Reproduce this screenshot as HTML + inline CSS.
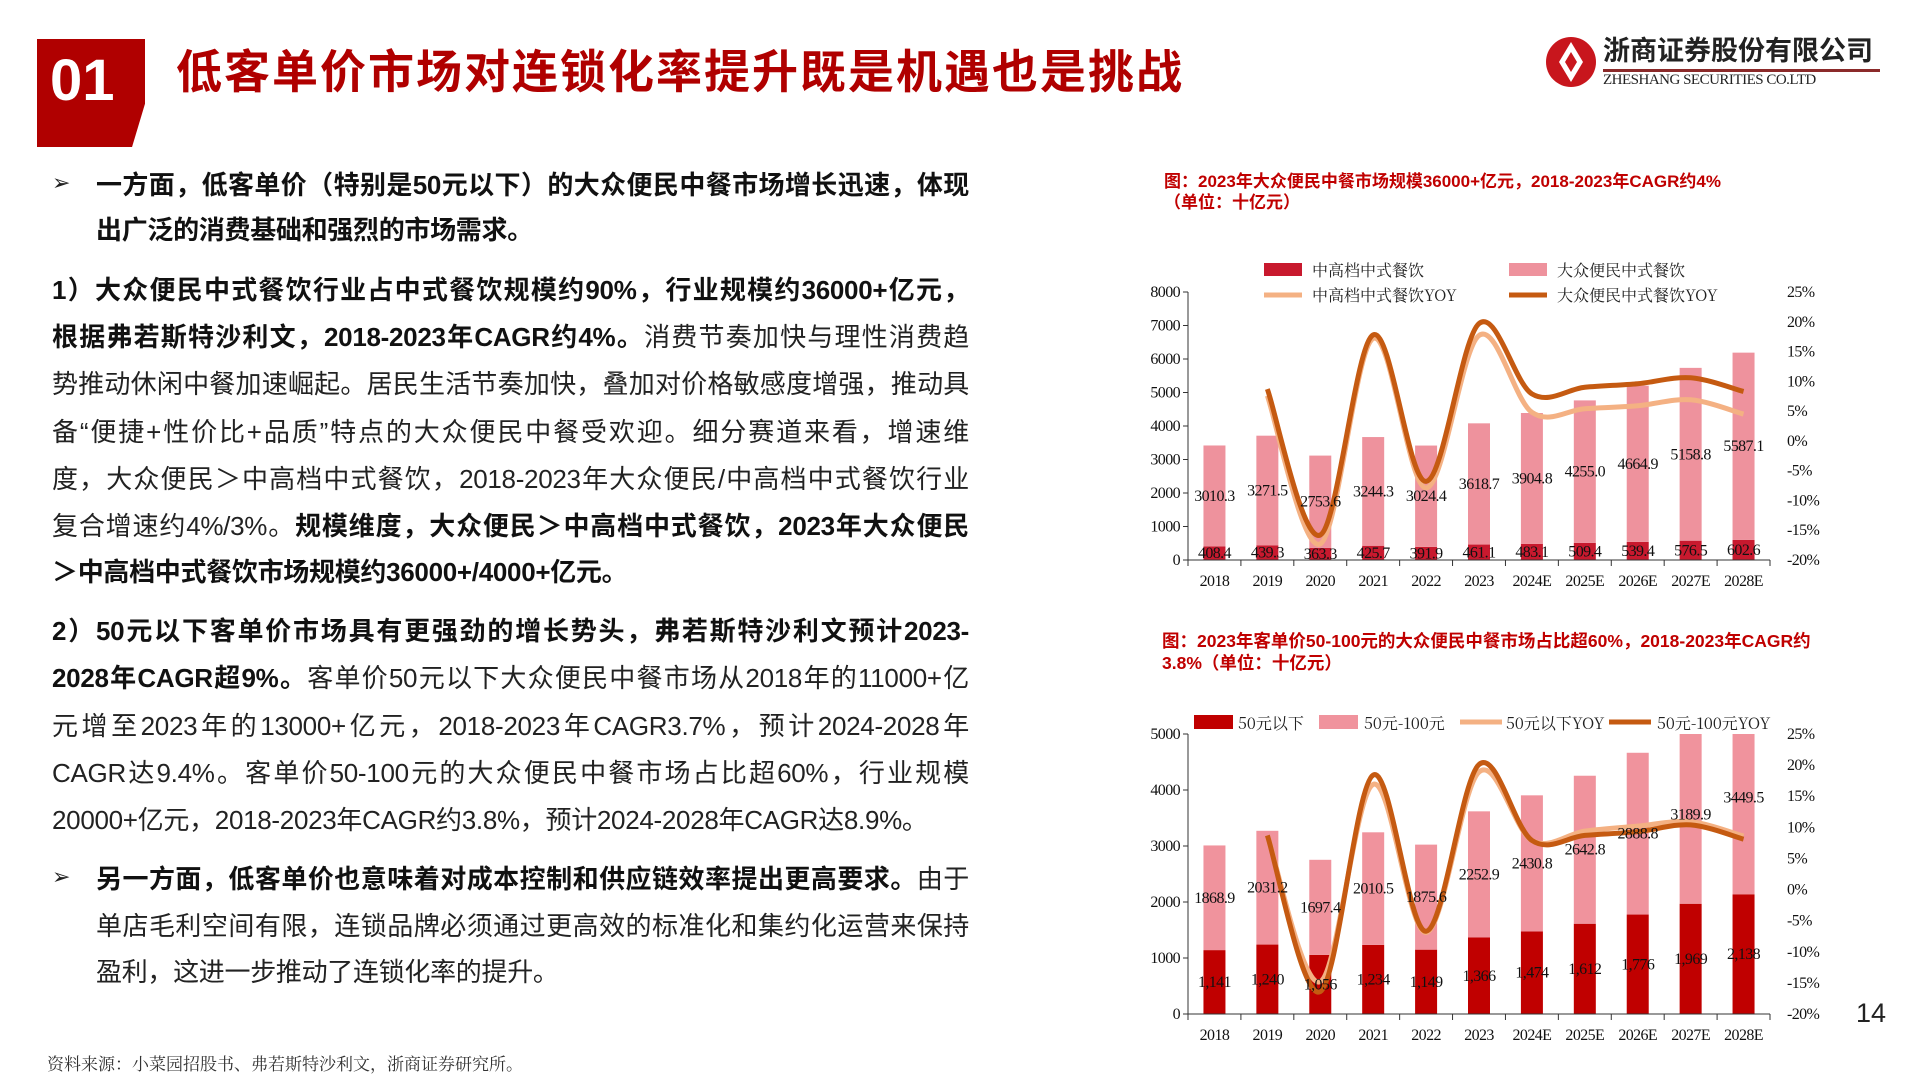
<!DOCTYPE html>
<html><head><meta charset="utf-8"><style>
body{margin:0;width:1920px;height:1080px;background:#fff;position:relative;overflow:hidden;font-family:"Liberation Sans","Noto Sans CJK SC",sans-serif;}
.t{position:absolute;font-size:26px;color:#222;white-space:nowrap;line-height:34px;letter-spacing:-0.3px}
.j{text-align:justify;text-align-last:justify;white-space:nowrap;height:34px;}
b{font-weight:bold;color:#111}
.bul{position:absolute;font-size:22px;color:#222;}
</style></head><body>
<div style="position:absolute;left:37px;top:39px;width:108px;height:108px;background:#B00000;clip-path:polygon(0 0,100% 0,100% 60%,88% 100%,0 100%)"></div>
<div style="position:absolute;left:50px;top:46px;font-size:58px;font-weight:bold;color:#fff;line-height:70px">01</div>
<div style="position:absolute;left:176px;top:42px;font-size:46px;font-weight:bold;color:#B00000;line-height:60px;letter-spacing:2px">低客单价市场对连锁化率提升既是机遇也是挑战</div>
<svg style="position:absolute;left:1545px;top:32px" width="56" height="60"><circle cx="26" cy="30" r="25" fill="#C8161D"/><path d="M26 10 L38 30 L26 50 L14 30Z" fill="#fff"/><path d="M26 20 L32 30 L26 40 L20 30Z" fill="#C8161D"/></svg>
<div style="position:absolute;left:1603px;top:34px;font-size:27px;font-weight:bold;color:#222;line-height:34px">浙商证券股份有限公司</div>
<div style="position:absolute;left:1603px;top:69px;width:277px;height:3px;background:#8B2A2A"></div>
<div style="position:absolute;left:1603px;top:72px;font-family:'Liberation Serif',serif;font-size:15px;color:#222;letter-spacing:-0.5px">ZHESHANG SECURITIES CO.LTD</div>

<div class="bul" style="left:52px;top:170px">➢</div>
<div class="t j" style="left:96px;top:168px;width:873px"><b>一方面，低客单价（特别是50元以下）的大众便民中餐市场增长迅速，体现</b></div>
<div class="t" style="left:96px;top:213px"><b>出广泛的消费基础和强烈的市场需求。</b></div>
<div class="t j" style="left:52px;top:273px;width:917px"><b>1）大众便民中式餐饮行业占中式餐饮规模约90%，行业规模约36000+亿元，</b></div>
<div class="t j" style="left:52px;top:320px;width:917px"><b>根据弗若斯特沙利文，2018-2023年CAGR约4%。</b>消费节奏加快与理性消费趋</div>
<div class="t j" style="left:52px;top:367px;width:917px">势推动休闲中餐加速崛起。居民生活节奏加快，叠加对价格敏感度增强，推动具</div>
<div class="t j" style="left:52px;top:415px;width:917px">备“便捷+性价比+品质”特点的大众便民中餐受欢迎。细分赛道来看，增速维</div>
<div class="t j" style="left:52px;top:462px;width:917px">度，大众便民＞中高档中式餐饮，2018-2023年大众便民/中高档中式餐饮行业</div>
<div class="t j" style="left:52px;top:509px;width:917px">复合增速约4%/3%。<b>规模维度，大众便民＞中高档中式餐饮，2023年大众便民</b></div>
<div class="t" style="left:52px;top:555px"><b>＞中高档中式餐饮市场规模约36000+/4000+亿元。</b></div>
<div class="t j" style="left:52px;top:614px;width:917px"><b>2）50元以下客单价市场具有更强劲的增长势头，弗若斯特沙利文预计2023-</b></div>
<div class="t j" style="left:52px;top:661px;width:917px"><b>2028年CAGR超9%。</b>客单价50元以下大众便民中餐市场从2018年的11000+亿</div>
<div class="t j" style="left:52px;top:709px;width:917px">元增至2023年的13000+亿元，2018-2023年CAGR3.7%，预计2024-2028年</div>
<div class="t j" style="left:52px;top:756px;width:917px">CAGR达9.4%。客单价50-100元的大众便民中餐市场占比超60%，行业规模</div>
<div class="t" style="left:52px;top:803px">20000+亿元，2018-2023年CAGR约3.8%，预计2024-2028年CAGR达8.9%。</div>
<div class="bul" style="left:52px;top:864px">➢</div>
<div class="t j" style="left:96px;top:862px;width:873px"><b>另一方面，低客单价也意味着对成本控制和供应链效率提出更高要求。</b>由于</div>
<div class="t j" style="left:96px;top:909px;width:873px">单店毛利空间有限，连锁品牌必须通过更高效的标准化和集约化运营来保持</div>
<div class="t" style="left:96px;top:955px">盈利，这进一步推动了连锁化率的提升。</div>
<div style="position:absolute;left:47px;top:1050px;font-family:'Noto Serif CJK SC',serif;font-size:17px;color:#333">资料来源：小菜园招股书、弗若斯特沙利文，浙商证券研究所。</div>
<div style="position:absolute;left:1856px;top:998px;font-size:27px;color:#222">14</div>

<div style="position:absolute;left:1164px;top:171px;font-size:17px;font-weight:bold;color:#C00000;line-height:21px">图：2023年大众便民中餐市场规模36000+亿元，2018-2023年CAGR约4%<br>（单位：十亿元）</div>
<div style="position:absolute;left:1162px;top:630px;font-size:17.5px;font-weight:bold;color:#C00000;line-height:22px">图：2023年客单价50-100元的大众便民中餐市场占比超60%，2018-2023年CAGR约<br>3.8%（单位：十亿元）</div>
<svg id="s" style="position:absolute;left:0;top:0" width="1920" height="1080"></svg>
<script>
var S='';
var yrs=['2018','2019','2020','2021','2022','2023','2024E','2025E','2026E','2027E','2028E'];
var X0=1188,X1=1770,B=(X1-X0)/11;
function sm(p){var d='M'+p[0][0]+' '+p[0][1];for(var i=0;i<p.length-1;i++){var a=p[i-1]||p[i],b=p[i],c=p[i+1],e=p[i+2]||c;d+=' C'+(b[0]+(c[0]-a[0])/6)+' '+(b[1]+(c[1]-a[1])/6)+' '+(c[0]-(e[0]-b[0])/6)+' '+(c[1]-(e[1]-b[1])/6)+' '+c[0]+' '+c[1];}return d;}
function chart(o){
 var T=o.top,Bt=o.bot,H=Bt-T,M=o.max;
 function y(v){return Bt-Math.min(v,M)/M*H}
 function yr(p){return Bt-(p+20)/45*H}
 for(var i=0;i<11;i++){var cx=X0+B*(i+.5),w=22,a=o.lo[i],b=o.hi[i];
  S+='<rect x="'+(cx-w/2)+'" y="'+y(a)+'" width="'+w+'" height="'+(Bt-y(a))+'" fill="'+o.c1+'"/>';
  S+='<rect x="'+(cx-w/2)+'" y="'+y(a+b)+'" width="'+w+'" height="'+(y(a)-y(a+b))+'" fill="'+o.c2+'"/>';}
 var p1=[],p2=[];for(i=1;i<11;i++){var cx=X0+B*(i+.5);p1.push([cx,yr(o.y1[i-1])]);p2.push([cx,yr(o.y2[i-1])]);}
 S+='<path d="'+sm(p1)+'" fill="none" stroke="#F4B183" stroke-width="5"/>';
 S+='<path d="'+sm(p2)+'" fill="none" stroke="#C55A11" stroke-width="5"/>';
 var ft='font-family="Liberation Serif,serif" font-size="16" fill="#111" text-anchor="middle" letter-spacing="-0.6"';
 for(i=0;i<11;i++){var cx=X0+B*(i+.5),a=o.lo[i],b=o.hi[i];
  S+='<text x="'+cx+'" y="'+(Bt-a/M*H/2+5)+'" '+ft+'>'+o.l1[i]+'</text>';
  S+='<text x="'+cx+'" y="'+(Bt-(a+b/2)/M*H+5)+'" '+ft+'>'+b.toFixed(1)+'</text>';
  S+='<text x="'+cx+'" y="'+(Bt+26)+'" '+ft+'>'+yrs[i]+'</text>';
  S+='<line x1="'+(X0+B*i)+'" y1="'+Bt+'" x2="'+(X0+B*i)+'" y2="'+(Bt+6)+'" stroke="#333"/>';}
 S+='<line x1="'+X1+'" y1="'+Bt+'" x2="'+X1+'" y2="'+(Bt+6)+'" stroke="#333"/>';
 S+='<line x1="'+X0+'" y1="'+T+'" x2="'+X0+'" y2="'+Bt+'" stroke="#333"/><line x1="'+X0+'" y1="'+Bt+'" x2="'+X1+'" y2="'+Bt+'" stroke="#333"/>';
 for(var v=0;v<=M;v+=1000){var yy=Bt-v/M*H;S+='<line x1="'+(X0-5)+'" y1="'+yy+'" x2="'+X0+'" y2="'+yy+'" stroke="#333"/><text x="'+(X0-8)+'" y="'+(yy+5)+'" font-family="Liberation Serif,serif" font-size="16" fill="#111" text-anchor="end" letter-spacing="-0.6">'+v+'</text>';}
 for(var p=25;p>=-20;p-=5){S+='<text x="1787" y="'+(yr(p)+5)+'" font-family="Liberation Serif,serif" font-size="16" fill="#111" letter-spacing="-0.6">'+p+'%</text>';}
}
chart({top:292,bot:560,max:8000,c1:'#C8192E',c2:'#EE929D',
 lo:[408.4,439.3,363.3,425.7,391.9,461.1,483.1,509.4,539.4,576.5,602.6],
 hi:[3010.3,3271.5,2753.6,3244.3,3024.4,3618.7,3904.8,4255.0,4664.9,5158.8,5587.1],
 l1:['408.4','439.3','363.3','425.7','391.9','461.1','483.1','509.4','539.4','576.5','602.6'],
 y1:[7.6,-17.3,17.2,-7.9,17.7,4.8,5.4,5.9,6.9,4.5],y2:[8.7,-15.8,17.8,-6.8,19.7,7.9,9.0,9.6,10.6,8.3]});
chart({top:734,bot:1014,max:5000,c1:'#C00000',c2:'#F0939D',
 lo:[1141,1240,1056,1234,1149,1366,1474,1612,1776,1969,2138],
 hi:[1868.9,2031.2,1697.4,2010.5,1875.6,2252.9,2430.8,2642.8,2888.8,3189.9,3449.5],
 l1:['1,141','1,240','1,056','1,234','1,149','1,366','1,474','1,612','1,776','1,969','2,138'],
 y1:[8.7,-14.8,16.9,-6.9,18.9,7.9,9.4,10.2,10.9,8.6],y2:[8.7,-16.4,18.4,-6.7,20.1,7.9,8.7,9.3,10.4,8.1]});
var lf='font-family="Noto Serif CJK SC,serif" font-size="16" fill="#222"';
S+='<rect x="1264" y="263" width="38" height="13" fill="#C8192E"/><text x="1312" y="276" '+lf+'>中高档中式餐饮</text>';
S+='<rect x="1509" y="263" width="38" height="13" fill="#EE929D"/><text x="1557" y="276" '+lf+'>大众便民中式餐饮</text>';
S+='<line x1="1264" y1="295" x2="1302" y2="295" stroke="#F4B183" stroke-width="5"/><text x="1312" y="301" '+lf+'>中高档中式餐饮YOY</text>';
S+='<line x1="1509" y1="295" x2="1547" y2="295" stroke="#C55A11" stroke-width="5"/><text x="1557" y="301" '+lf+'>大众便民中式餐饮YOY</text>';
S+='<rect x="1194" y="715" width="39" height="14" fill="#C00000"/><text x="1238" y="729" '+lf+'>50元以下</text>';
S+='<rect x="1319" y="715" width="39" height="14" fill="#F0939D"/><text x="1364" y="729" '+lf+'>50元-100元</text>';
S+='<line x1="1460" y1="722" x2="1502" y2="722" stroke="#F4B183" stroke-width="5"/><text x="1506" y="729" '+lf+'>50元以下YOY</text>';
S+='<line x1="1609" y1="722" x2="1651" y2="722" stroke="#C55A11" stroke-width="5"/><text x="1657" y="729" '+lf+'>50元-100元YOY</text>';
document.getElementById('s').innerHTML=S;
</script>
</body></html>
